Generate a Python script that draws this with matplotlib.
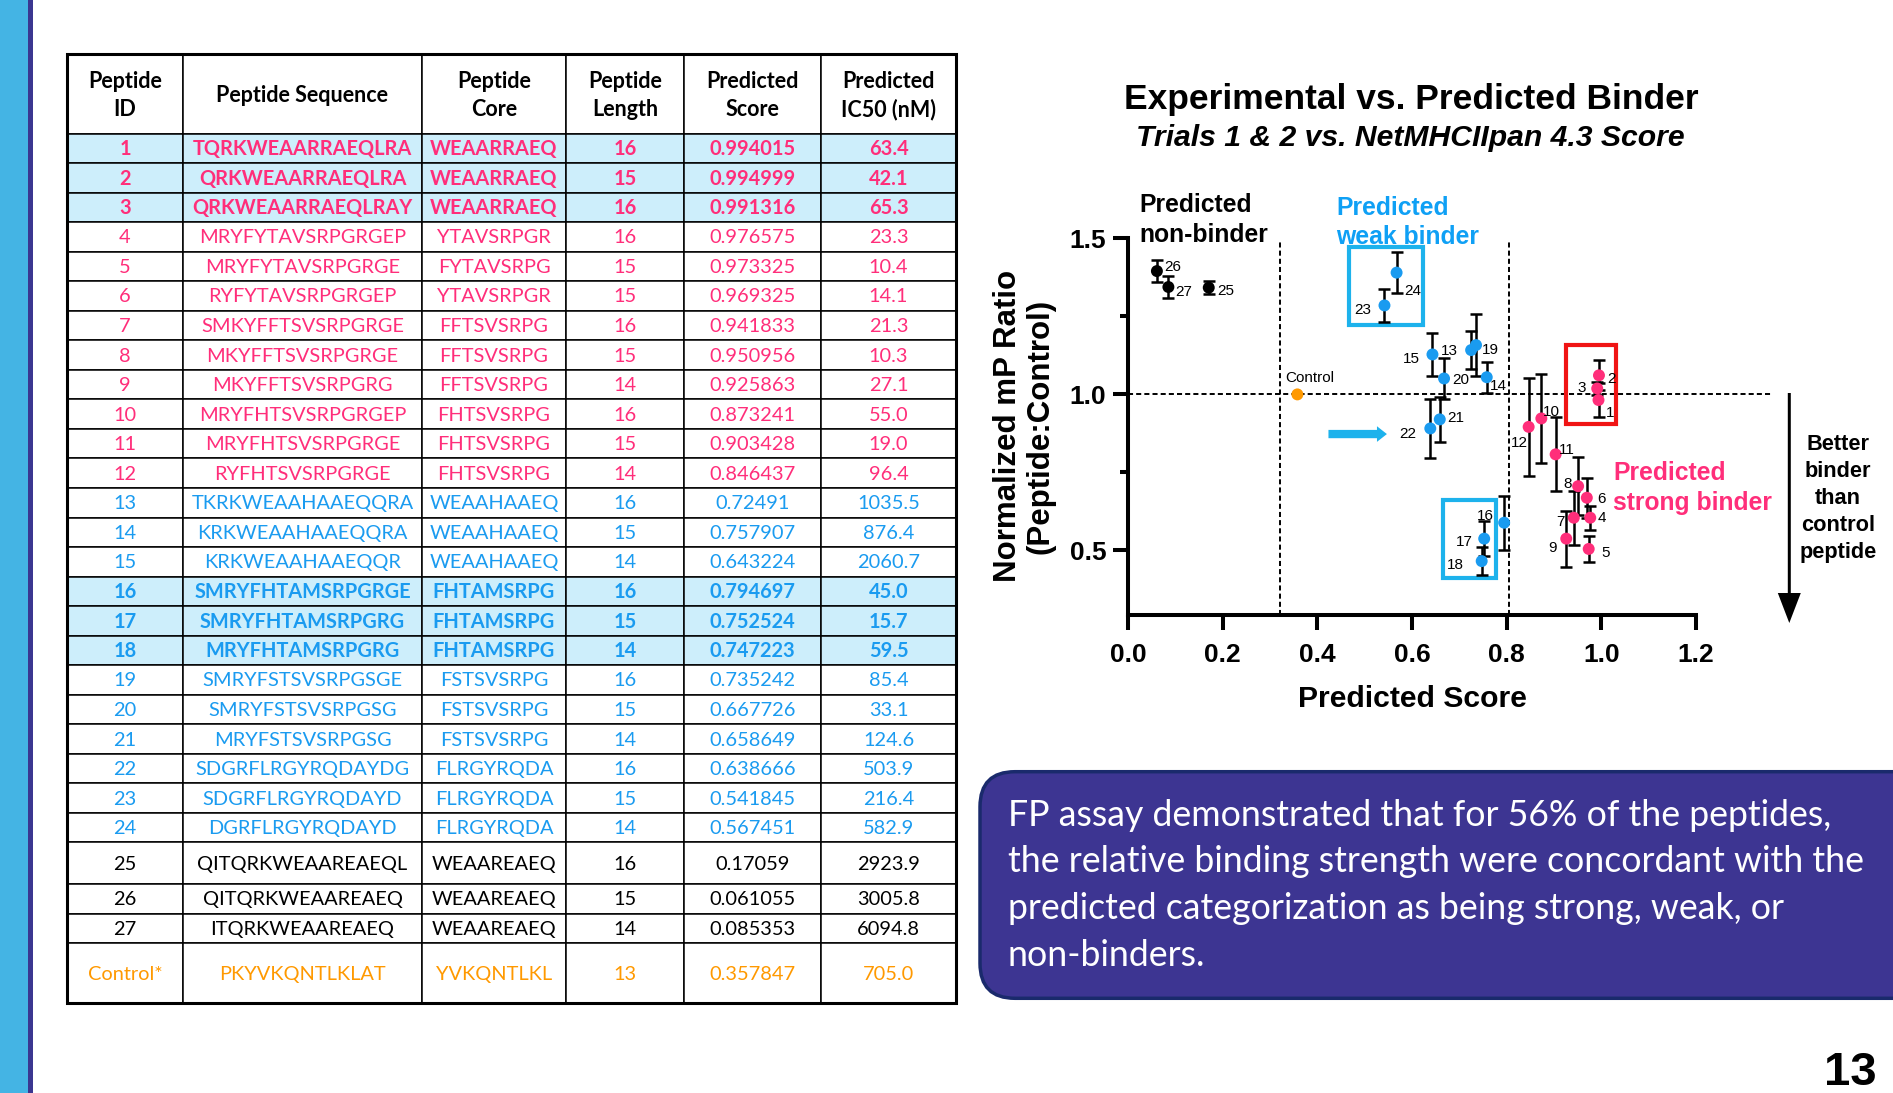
import matplotlib
matplotlib.use("Agg")
import matplotlib.pyplot as plt
from matplotlib.patches import Rectangle, FancyBboxPatch, FancyArrow
from matplotlib.ticker import FixedLocator

plt.rcParams["font.family"] = ["Liberation Sans", "DejaVu Sans"]

W, H = 1893, 1093

# --------------------------------------------------
# 1. Data (table + FP assay readout)
# --------------------------------------------------

peptide_ids = [str(i) for i in range(1, 28)] + ["Control*"]

sequences = [
    "TQRKWEAARRAEQLRA", "QRKWEAARRAEQLRA", "QRKWEAARRAEQLRAY", "MRYFYTAVSRPGRGEP",
    "MRYFYTAVSRPGRGE", "RYFYTAVSRPGRGEP", "SMKYFFTSVSRPGRGE", "MKYFFTSVSRPGRGE",
    "MKYFFTSVSRPGRG", "MRYFHTSVSRPGRGEP", "MRYFHTSVSRPGRGE", "RYFHTSVSRPGRGE",
    "TKRKWEAAHAAEQQRA", "KRKWEAAHAAEQQRA", "KRKWEAAHAAEQQR", "SMRYFHTAMSRPGRGE",
    "SMRYFHTAMSRPGRG", "MRYFHTAMSRPGRG", "SMRYFSTSVSRPGSGE", "SMRYFSTSVSRPGSG",
    "MRYFSTSVSRPGSG", "SDGRFLRGYRQDAYDG", "SDGRFLRGYRQDAYD", "DGRFLRGYRQDAYD",
    "QITQRKWEAAREAEQL", "QITQRKWEAAREAEQ", "ITQRKWEAAREAEQ", "PKYVKQNTLKLAT",
]

cores = [
    "WEAARRAEQ", "WEAARRAEQ", "WEAARRAEQ", "YTAVSRPGR", "FYTAVSRPG", "YTAVSRPGR",
    "FFTSVSRPG", "FFTSVSRPG", "FFTSVSRPG", "FHTSVSRPG", "FHTSVSRPG", "FHTSVSRPG",
    "WEAAHAAEQ", "WEAAHAAEQ", "WEAAHAAEQ", "FHTAMSRPG", "FHTAMSRPG", "FHTAMSRPG",
    "FSTSVSRPG", "FSTSVSRPG", "FSTSVSRPG", "FLRGYRQDA", "FLRGYRQDA", "FLRGYRQDA",
    "WEAAREAEQ", "WEAAREAEQ", "WEAAREAEQ", "YVKQNTLKL",
]

lengths = ["16", "15", "16", "16", "15", "15", "16", "15", "14", "16", "15", "14",
           "16", "15", "14", "16", "15", "14", "16", "15", "14", "16", "15", "14",
           "16", "15", "14", "13"]

scores = [
    "0.994015", "0.994999", "0.991316", "0.976575", "0.973325", "0.969325",
    "0.941833", "0.950956", "0.925863", "0.873241", "0.903428", "0.846437",
    "0.72491", "0.757907", "0.643224", "0.794697", "0.752524", "0.747223",
    "0.735242", "0.667726", "0.658649", "0.638666", "0.541845", "0.567451",
    "0.17059", "0.061055", "0.085353", "0.357847",
]

ic50 = ["63.4", "42.1", "65.3", "23.3", "10.4", "14.1", "21.3", "10.3", "27.1",
        "55.0", "19.0", "96.4", "1035.5", "876.4", "2060.7", "45.0", "15.7", "59.5",
        "85.4", "33.1", "124.6", "503.9", "216.4", "582.9", "2923.9", "3005.8",
        "6094.8", "705.0"]

binder_class = ["strong"] * 12 + ["weak"] * 12 + ["non"] * 3 + ["control"]
highlight_ids = ["1", "2", "3", "16", "17", "18"]

# normalized mP ratio (peptide:control), mean and error bar half-length
mp_ratio = [0.982, 1.061, 1.019, 0.605, 0.505, 0.669, 0.605, 0.706, 0.538, 0.923,
            0.808, 0.896, 1.142, 1.055, 1.128, 0.589, 0.538, 0.466, 1.158, 1.051,
            0.920, 0.891, 1.285, 1.390, 1.342, 1.395, 1.344, 1.000]
mp_err = [0.053, 0.048, 0.020, 0.039, 0.042, 0.064, 0.086, 0.092, 0.090, 0.142,
          0.119, 0.157, 0.062, 0.050, 0.070, 0.087, 0.056, 0.045, 0.100, 0.066,
          0.071, 0.094, 0.053, 0.065, 0.021, 0.035, 0.036, 0.0]

header_labels = ["Peptide\nID", "Peptide Sequence", "Peptide\nCore",
                 "Peptide\nLength", "Predicted\nScore", "Predicted\nIC50 (nM)"]

x_ticks = [0.0, 0.2, 0.4, 0.6, 0.8, 1.0, 1.2]
x_tick_labels = ["0.0", "0.2", "0.4", "0.6", "0.8", "1.0", "1.2"]
y_ticks = [0.5, 1.0, 1.5]
y_tick_labels = ["0.5", "1.0", "1.5"]

summary_lines = [
    "FP assay demonstrated that for 56% of the peptides,",
    "the relative binding strength were concordant with the",
    "predicted categorization as being strong, weak, or",
    "non-binders.",
]

# --------------------------------------------------
# 2. Styling / layout
# --------------------------------------------------

class_colors = {"strong": "#FF2E7A", "weak": "#1A9BF0", "non": "black", "control": "#FF9900"}
cyan = "#1DB2EC"
table_font = ["Lato", "DejaVu Sans"]

# label offsets next to each point (pixels, ha)
label_offsets = [
    (7, -13, "left"), (8, -4, "left"), (-11, 0, "right"), (7, 0, "left"),
    (13, -4, "left"), (10, -1, "left"), (-9, -4, "right"), (-6, 2, "right"),
    (-9, -9, "right"), (2, 6, "left"), (3, 4, "left"), (-1, -16, "right"),
    (-13, -1, "right"), (3, -9, "left"), (-13, -5, "right"), (-19, 7, "center"),
    (-11, -3, "right"), (-18, -4, "right"), (6, -5, "left"), (8, -2, "left"),
    (7, 1, "left"), (-14, -6, "right"), (-13, -5, "right"), (8, -18, "left"),
    (9, -3, "left"), (7, 4, "left"), (7, -5, "left"), (12, 16, "center"),
]

fig = plt.figure(figsize=(W / 100, H / 100), dpi=100)
fig.patch.set_facecolor("white")

# background axes in pixel coordinates (y downwards)
bg = fig.add_axes([0, 0, 1, 1], zorder=0)
bg.set_xlim(0, W)
bg.set_ylim(H, 0)
bg.axis("off")

# side bars
bg.add_patch(Rectangle((0, 0), 28.3, H, color="#44B4E4", lw=0))
bg.add_patch(Rectangle((28.3, 0), 4.7, H, color="#3B3690", lw=0))

# --------------------------------------------------
# 3. Table
# --------------------------------------------------

col_edges = [67, 183, 422, 566, 684, 821, 956]
row_heights = [79.5] + [29.54] * 24 + [41.5, 30, 29.3, 60]
row_edges = [54.0]
for h in row_heights:
    row_edges.append(row_edges[-1] + h)

columns = [peptide_ids, sequences, cores, lengths, scores, ic50]

for c in range(6):
    x0, x1 = col_edges[c], col_edges[c + 1]
    xc = (x0 + x1) / 2
    # header
    y0, y1 = row_edges[0], row_edges[1]
    bg.add_patch(Rectangle((x0, y0), x1 - x0, y1 - y0, fc="white", ec="black", lw=1.1))
    parts = header_labels[c].split("\n")
    yc = (y0 + y1) / 2 + 2
    if len(parts) == 1:
        bg.text(xc, yc, parts[0], ha="center", va="center", fontsize=15.5,
                fontweight="bold", family=table_font)
    else:
        bg.text(xc, yc - 14.2, parts[0], ha="center", va="center", fontsize=15.5,
                fontweight="bold", family=table_font)
        bg.text(xc, yc + 14.2, parts[1], ha="center", va="center", fontsize=15.5,
                fontweight="bold", family=table_font)
    # body
    for r in range(len(peptide_ids)):
        y0, y1 = row_edges[r + 1], row_edges[r + 2]
        hl = peptide_ids[r] in highlight_ids
        bg.add_patch(Rectangle((x0, y0), x1 - x0, y1 - y0,
                               fc="#CDEEFB" if hl else "white", ec="black", lw=1.1))
        bg.text(xc, (y0 + y1) / 2 + 1, columns[c][r], ha="center", va="center",
                fontsize=14.4, fontweight="bold" if hl else "normal",
                color=class_colors[binder_class[r]], family=table_font)

bg.add_patch(Rectangle((col_edges[0], row_edges[0]), col_edges[-1] - col_edges[0],
                       row_edges[-1] - row_edges[0], fill=False, ec="black", lw=2.2))

# --------------------------------------------------
# 4. Titles, region labels, summary box
# --------------------------------------------------

bg.text(1411, 109, "Experimental vs. Predicted Binder", ha="center", va="baseline",
        fontsize=25.5, fontweight="bold")
bg.text(1410, 146, "Trials 1 & 2 vs. NetMHCIIpan 4.3 Score", ha="center",
        va="baseline", fontsize=21.7, fontweight="bold", style="italic")

bg.text(1139, 212.5, "Predicted", fontsize=17.8, fontweight="bold", va="baseline")
bg.text(1139, 241.5, "non-binder", fontsize=17.8, fontweight="bold", va="baseline")
bg.text(1336, 215, "Predicted", fontsize=17.8, fontweight="bold", va="baseline",
        color="#0FA0F5")
bg.text(1336, 244, "weak binder", fontsize=17.8, fontweight="bold", va="baseline",
        color="#0FA0F5")
bg.text(1613, 480, "Predicted", fontsize=17.8, fontweight="bold", va="baseline",
        color=class_colors["strong"])
bg.text(1613, 510, "strong binder", fontsize=17.8, fontweight="bold", va="baseline",
        color=class_colors["strong"])

# arrow: better binder than control
bg.add_patch(FancyArrow(1789.3, 393, 0, 230, width=3, head_width=23, head_length=30,
                        length_includes_head=True, color="black", lw=0))
for i, word in enumerate(["Better", "binder", "than", "control", "peptide"]):
    bg.text(1838, 450 + 27 * i, word, ha="center", va="baseline", fontsize=15.7,
            fontweight="bold")

# summary box
bg.add_patch(FancyBboxPatch((980, 771.7), 1000, 226.6,
                            boxstyle="round,pad=0,rounding_size=35",
                            fc="#3D3592", ec="#1A2A6C", lw=2.5))
for i, line in enumerate(summary_lines):
    bg.text(1008, 826 + 46.5 * i, line, color="white", fontsize=25.7, va="baseline",
            family=table_font)

bg.text(1877, 1085, "13", ha="right", va="baseline", fontsize=34, fontweight="bold",
        family=["Liberation Sans Narrow", "Liberation Sans", "DejaVu Sans"])

# --------------------------------------------------
# 5. Scatter plot
# --------------------------------------------------

ax = fig.add_axes([1128 / W, (H - 614.5) / H, (1696 - 1128) / W, (614.5 - 238.3) / H],
                  zorder=1)
ax.patch.set_alpha(0)
ax.set_xlim(0, 1.2)
ax.set_ylim(0.295, 1.5)
for s in ["top", "right"]:
    ax.spines[s].set_visible(False)
for s in ["left", "bottom"]:
    ax.spines[s].set_linewidth(2.9)

ax.set_xticks(x_ticks)
ax.set_xticklabels(x_tick_labels, fontweight="bold")
ax.set_yticks(y_ticks)
ax.set_yticklabels(y_tick_labels, fontweight="bold")
ax.yaxis.set_minor_locator(FixedLocator([0.75, 1.25]))
ax.tick_params(axis="both", which="major", length=11, width=2.9, labelsize=19)
ax.tick_params(axis="x", which="major", pad=9.5)
ax.tick_params(axis="y", which="major", pad=4.5)
ax.tick_params(axis="y", which="minor", length=6, width=2.9)

ax.set_xlabel("Predicted Score", fontsize=21.7, fontweight="bold", labelpad=13)
ax.set_ylabel("Normalized mP Ratio\n(Peptide:Control)", fontsize=22.5,
              fontweight="bold", linespacing=1.15, labelpad=10)

# reference lines
ax.plot([0, 1.36], [1, 1], color="black", lw=1.4, dashes=(2.6, 1.6), clip_on=False,
        zorder=2)
for xv in [0.322, 0.804]:
    ax.plot([xv, xv], [0.295, 1.49], color="black", lw=1.4, dashes=(2.6, 1.6),
            clip_on=False, zorder=2)

x_score = [float(s) for s in scores]
n_pep = len(peptide_ids) - 1

ax.errorbar(x_score[:n_pep], mp_ratio[:n_pep], yerr=mp_err[:n_pep], fmt="none",
            ecolor="black", elinewidth=1.8, capsize=4.6, capthick=1.8, zorder=3,
            clip_on=False)
ax.scatter(x_score, mp_ratio, s=74, c=[class_colors[b] for b in binder_class],
           linewidths=0, zorder=4, clip_on=False)

for i in range(len(peptide_ids)):
    dx, dy, ha = label_offsets[i]
    lab = "Control" if binder_class[i] == "control" else peptide_ids[i]
    ax.annotate(lab, (x_score[i], mp_ratio[i]), xytext=(dx, dy),
                textcoords="offset pixels", ha=ha, va="center", fontsize=11,
                zorder=5, annotation_clip=False)

# highlight boxes
ax.add_patch(Rectangle((0.467, 1.221), 0.157, 0.250, fill=False, ec=cyan, lw=3,
                       clip_on=False, zorder=2))
ax.add_patch(Rectangle((0.665, 0.412), 0.113, 0.250, fill=False, ec=cyan, lw=3,
                       clip_on=False, zorder=2))
ax.add_patch(Rectangle((0.926, 0.905), 0.105, 0.252, fill=False, ec="#F01414", lw=3,
                       clip_on=False, zorder=2))

# cyan pointer to peptide 22
ax.add_patch(FancyArrow(0.4235, 0.873, 0.1235, 0, width=0.0266, head_width=0.05,
                        head_length=0.021, length_includes_head=True, color=cyan,
                        lw=0, clip_on=False, zorder=2))

fig.savefig("out.png", dpi=100)
